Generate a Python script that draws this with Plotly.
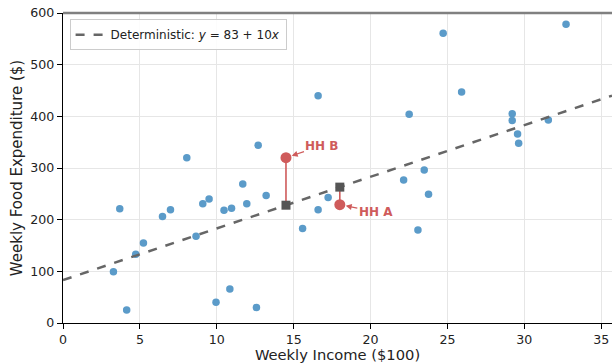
import plotly.graph_objects as go

income = [3.28, 3.69, 4.14, 4.73, 5.23, 6.47, 6.99, 8.05, 8.65, 9.09, 9.5, 9.95, 10.47, 10.85,
          10.96, 11.69, 11.95, 12.58, 12.69, 13.21, 15.58, 16.59, 16.59, 17.24, 22.15, 22.51,
          23.08, 23.49, 23.77, 24.72, 25.92, 29.21, 29.21, 29.56, 29.63, 31.56, 32.71]
food = [99, 221, 25, 133, 155, 206, 219, 320, 168, 231, 240, 40, 218, 66,
        222, 269, 231, 30, 344, 247, 183, 440, 219, 243, 277, 404,
        180, 296, 249, 561, 447, 405, 392, 366, 348, 393, 578]

intercept = 83
slope = 10
x_max = 35.7
hh_labels = ["HH B", "HH A"]
hh_income = [14.5, 18.0]
hh_food = [320, 229]

line_x = [0, x_max]
line_y = [intercept + slope * v for v in line_x]
hh_pred = [intercept + slope * v for v in hh_income]

blue = "#5b9bc9"
red = "#cf5b5b"
dark = "#555555"

fig = go.Figure()

fig.add_trace(go.Scatter(x=income, y=food, mode="markers",
                         marker=dict(color=blue, size=7.5, line=dict(width=0)),
                         showlegend=False, hoverinfo="skip"))

fig.add_trace(go.Scatter(x=line_x, y=line_y, mode="lines",
                         line=dict(color="#666666", width=2.5, dash="dash"),
                         name="Deterministic: <i>y</i> = 83 + 10<i>x</i>"))

for xi, yi, pi in zip(hh_income, hh_food, hh_pred):
    fig.add_trace(go.Scatter(x=[xi, xi], y=[pi, yi], mode="lines",
                             line=dict(color=red, width=1.6), showlegend=False))

fig.add_trace(go.Scatter(x=hh_income, y=hh_pred, mode="markers",
                         marker=dict(color=dark, size=9, symbol="square"),
                         showlegend=False))
fig.add_trace(go.Scatter(x=hh_income, y=hh_food, mode="markers",
                         marker=dict(color=red, size=11),
                         showlegend=False))

offsets = {"HH B": (36, -12), "HH A": (36, 7)}
for lab, xi, yi in zip(hh_labels, hh_income, hh_food):
    ax, ay = offsets[lab]
    fig.add_annotation(x=xi, y=yi, text="<b>" + lab + "</b>", showarrow=True,
                       ax=ax, ay=ay, arrowhead=2, arrowsize=1, arrowwidth=1.2,
                       arrowcolor=red, standoff=6,
                       font=dict(color=red, size=12, family="DejaVu Sans"))

fig.add_shape(type="line", xref="paper", yref="paper", x0=0, x1=1, y0=1, y1=1,
              line=dict(color="#808080", width=2.5))

fig.update_layout(
    width=612, height=363,
    margin=dict(l=63, r=0, t=13, b=40),
    paper_bgcolor="white", plot_bgcolor="white",
    font=dict(family="DejaVu Sans", size=12.6, color="#222222"),
    legend=dict(x=0.012, y=0.98, xanchor="left", yanchor="top",
                bgcolor="rgba(255,255,255,0.85)", bordercolor="#cccccc", borderwidth=1,
                font=dict(size=12)),
    xaxis=dict(range=[0, x_max], tickvals=[0, 5, 10, 15, 20, 25, 30, 35],
               showgrid=True, gridcolor="#e6e6e6", gridwidth=1,
               showline=True, linecolor="black", linewidth=1.2,
               ticks="outside", ticklen=5, tickcolor="black",
               zeroline=False, automargin=False, ticklabeloverflow="allow",
               title=dict(text="Weekly Income ($100)", font=dict(size=14.7), standoff=2)),
    yaxis=dict(range=[0, 600], tickvals=[0, 100, 200, 300, 400, 500, 600],
               showgrid=True, gridcolor="#e6e6e6", gridwidth=1,
               showline=True, linecolor="black", linewidth=1.2,
               ticks="outside", ticklen=5, tickcolor="black",
               zeroline=False, automargin=False, ticklabeloverflow="allow",
               title=dict(text="Weekly Food Expenditure ($)", font=dict(size=15), standoff=4)),
)

fig.write_html("out.html", config={"displayModeBar": False},
               post_script="document.body.style.margin='0';document.body.style.overflow='hidden';")
